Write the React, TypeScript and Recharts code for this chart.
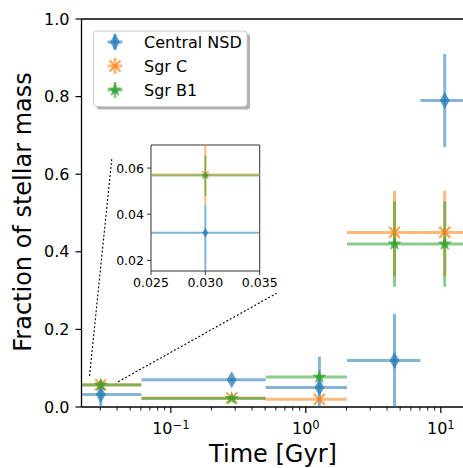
import { ScatterChart, Scatter, XAxis, YAxis, ErrorBar, ReferenceLine } from "recharts";

const FONT = "DejaVu Sans, sans-serif";

const seriesNames = ["Central NSD", "Sgr C", "Sgr B1"];
const colors = ["#1f77b4", "#ff7f0e", "#2ca02c"];

// age bins (Gyr)
const ages = [0.03, 0.28, 1.25, 4.5, 10.6];
const binLo = [0.02, 0.06, 0.5, 2, 7];
const binHi = [0.06, 0.5, 2, 7, 16];

const nsdFrac = [0.032, 0.07, 0.05, 0.12, 0.79];
const nsdLo = [0.0, 0.066, 0.0, 0.0, 0.67];
const nsdHi = [0.044, 0.074, 0.13, 0.24, 0.91];

const sgrCFrac = [0.0572, 0.023, 0.02, 0.45, 0.45];
const sgrCLo = [0.044, 0.019, 0.016, 0.338, 0.338];
const sgrCHi = [0.071, 0.027, 0.024, 0.557, 0.557];

const sgrB1Frac = [0.0568, 0.022, 0.077, 0.42, 0.42];
const sgrB1Lo = [0.048, 0.018, 0.069, 0.31, 0.31];
const sgrB1Hi = [0.0655, 0.026, 0.085, 0.53, 0.53];

const yTicks = [0, 0.2, 0.4, 0.6, 0.8, 1.0];
const xMajor = [0.1, 1, 10];
const xMajorExp = ["−1", "0", "1"];
const xMinor = [0.03, 0.04, 0.05, 0.06, 0.07, 0.08, 0.09, 0.2, 0.3, 0.4, 0.5, 0.6, 0.7, 0.8, 0.9, 2, 3, 4, 5, 6, 7, 8, 9];

const insetXTicks = [0.025, 0.03, 0.035];
const insetYTicks = [0.02, 0.04, 0.06];

const mainXDomain = [0.0218, 14.6];
const mainYDomain = [0, 1];
const insetXDomain = [0.025, 0.035];
const insetYDomain = [0.0154, 0.07];

function rows(y: number[], lo: number[], hi: number[]) {
  return ages.map((x, i) => ({
    x,
    y: y[i],
    ex: [x - binLo[i], binHi[i] - x],
    ey: [y[i] - lo[i], hi[i] - y[i]],
  }));
}

const series = [rows(nsdFrac, nsdLo, nsdHi), rows(sgrCFrac, sgrCLo, sgrCHi), rows(sgrB1Frac, sgrB1Lo, sgrB1Hi)];

function Marker({ kind, cx, cy, s = 1 }: { kind: number; cx: number; cy: number; s?: number }) {
  const c = colors[kind];
  if (kind === 0) {
    const w = 5 * s, h = 8.5 * s;
    return <path d={`M${cx},${cy - h}L${cx + w},${cy}L${cx},${cy + h}L${cx - w},${cy}Z`} fill={c} fillOpacity={0.7} />;
  }
  if (kind === 1) {
    const r = 5.5 * s;
    return (
      <path d={`M${cx - r},${cy - r}L${cx + r},${cy + r}M${cx - r},${cy + r}L${cx + r},${cy - r}`}
        stroke={c} strokeOpacity={0.7} strokeWidth={2.2 * s} fill="none" />
    );
  }
  const pts: string[] = [];
  for (let k = 0; k < 10; k++) {
    const a = ((-90 + 36 * k) * Math.PI) / 180;
    const r = (k % 2 ? 3 : 7.5) * s;
    pts.push(`${cx + r * Math.cos(a)},${cy + r * Math.sin(a)}`);
  }
  return <polygon points={pts.join(" ")} fill={c} fillOpacity={0.75} />;
}

function LogTick(props: any) {
  const { x, y, payload } = props;
  const mi = xMajor.indexOf(payload.value);
  const major = mi >= 0;
  return (
    <g>
      <line x1={x} x2={x} y1={y} y2={y + (major ? 6 : 3.5)} stroke="#000" strokeWidth={major ? 1.2 : 0.9} />
      {major && (
        <text x={x} y={y + 27} textAnchor="middle" fontSize={16} fill="#000" fontFamily={FONT}>
          10<tspan dy={-5} fontSize={11.5}>{xMajorExp[mi]}</tspan>
        </text>
      )}
    </g>
  );
}

function renderSeries(scale: number, lw: number) {
  return series.map((d, k) => (
    <Scatter key={k} data={d} isAnimationActive={false}
      shape={(p: any) => <Marker kind={k} cx={p.cx} cy={p.cy} s={scale} />}>
      <ErrorBar dataKey="ex" direction="x" width={0} stroke={colors[k]} strokeOpacity={0.55} strokeWidth={lw} isAnimationActive={false} />
      <ErrorBar dataKey="ey" direction="y" width={0} stroke={colors[k]} strokeOpacity={0.55} strokeWidth={lw} isAnimationActive={false} />
    </Scatter>
  ));
}

// data-only layer, clipped to the plot box by its wrapper
function DataLayer({ left, top, width, height, xDomain, yDomain, log, scale, lw }: any) {
  return (
    <div style={{ position: "absolute", left, top, width, height, overflow: "hidden" }}>
      <ScatterChart width={width} height={height} margin={{ top: 0, right: 0, bottom: 0, left: 0 }}>
        <XAxis dataKey="x" type="number" scale={log ? "log" : "auto"} domain={xDomain} allowDataOverflow hide />
        <YAxis dataKey="y" type="number" domain={yDomain} allowDataOverflow hide />
        {renderSeries(scale, lw)}
      </ScatterChart>
    </div>
  );
}

export default function App() {
  const tickStyle = { fontSize: 16, fill: "#000", fontFamily: FONT };
  const insetTick = { fontSize: 12.5, fill: "#000", fontFamily: FONT };
  return (
    <div style={{ position: "absolute", left: 0, top: 0, width: 463, height: 468, background: "#fff", fontFamily: FONT }}>
      {/* main axes */}
      <ScatterChart width={463} height={468} margin={{ top: 19, right: 0, bottom: 0, left: 0 }}>
        <XAxis dataKey="x" type="number" scale="log" domain={mainXDomain} allowDataOverflow
          ticks={[...xMinor, ...xMajor]} interval={0} tick={<LogTick />} tickLine={false}
          tickSize={0} tickMargin={0} height={61} axisLine={{ stroke: "#000", strokeWidth: 1.3 }} />
        <YAxis dataKey="y" type="number" domain={mainYDomain} allowDataOverflow ticks={yTicks} interval={0}
          tickFormatter={(v: number) => v.toFixed(1)} width={81.5} tick={tickStyle}
          tickSize={6} tickMargin={6} tickLine={{ stroke: "#000", strokeWidth: 1.2 }}
          axisLine={{ stroke: "#000", strokeWidth: 1.3 }} />
        <ReferenceLine y={1} stroke="#000" strokeWidth={1.3} />
        <ReferenceLine segment={[{ x: 0.025, y: 0.08 }, { x: 0.0366, y: 0.642 }]} stroke="#000"
          strokeWidth={1.1} strokeDasharray="2 2" ifOverflow="visible" />
        <ReferenceLine segment={[{ x: 0.0407, y: 0.065 }, { x: 0.607, y: 0.293 }]} stroke="#000"
          strokeWidth={1.1} strokeDasharray="2 2" ifOverflow="visible" />
      </ScatterChart>
      <DataLayer left={81.5} top={19} width={381.5} height={388} xDomain={mainXDomain} yDomain={mainYDomain} log scale={1} lw={3} />

      {/* inset axes */}
      <div style={{ position: "absolute", left: 100, top: 135 }}>
        <ScatterChart width={180} height={170} margin={{ top: 10, right: 20.3, bottom: 0, left: 0 }}>
          <XAxis dataKey="x" type="number" domain={insetXDomain} allowDataOverflow ticks={insetXTicks} interval={0}
            tickFormatter={(v: number) => v.toFixed(3)} height={34} tickSize={4} tickMargin={3}
            tick={insetTick} tickLine={{ stroke: "#333" }} axisLine={{ stroke: "#333" }} />
          <YAxis dataKey="y" type="number" domain={insetYDomain} allowDataOverflow ticks={insetYTicks} interval={0}
            tickFormatter={(v: number) => v.toFixed(2)} width={51} tickSize={4} tickMargin={3}
            tick={insetTick} tickLine={{ stroke: "#333" }} axisLine={{ stroke: "#333" }} />
          <ReferenceLine y={0.07} stroke="#333" ifOverflow="visible" />
          <ReferenceLine x={0.035} stroke="#333" ifOverflow="visible" />
        </ScatterChart>
      </div>
      <DataLayer left={151} top={145} width={108.7} height={126} xDomain={insetXDomain} yDomain={insetYDomain} scale={0.6} lw={2} />

      <svg width={463} height={468} style={{ position: "absolute", left: 0, top: 0, pointerEvents: "none" }}>
        <text x={273} y={462} textAnchor="middle" fontSize={24} fill="#000" fontFamily={FONT}>Time [Gyr]</text>
        <text transform="translate(31,212) rotate(-90)" textAnchor="middle" fontSize={24} fill="#000" fontFamily={FONT}>
          Fraction of stellar mass
        </text>
        <rect x={96.5} y={34} width={153.5} height={75.5} rx={3} fill="#000" fillOpacity={0.3} />
        <rect x={93.5} y={31} width={153.5} height={75.5} rx={3} fill="#fff" stroke="#ccc" strokeWidth={1} />
        {seriesNames.map((n, k) => {
          const cy = 42 + k * 24;
          return (
            <g key={n}>
              <line x1={107.5} x2={122.5} y1={cy} y2={cy} stroke={colors[k]} strokeOpacity={0.55} strokeWidth={3} />
              <line x1={115} x2={115} y1={cy - 8} y2={cy + 8} stroke={colors[k]} strokeOpacity={0.55} strokeWidth={3} />
              <Marker kind={k} cx={115} cy={cy} />
              <text x={144} y={cy + 6} fontSize={16} fill="#000" fontFamily={FONT}>{n}</text>
            </g>
          );
        })}
      </svg>
    </div>
  );
}
